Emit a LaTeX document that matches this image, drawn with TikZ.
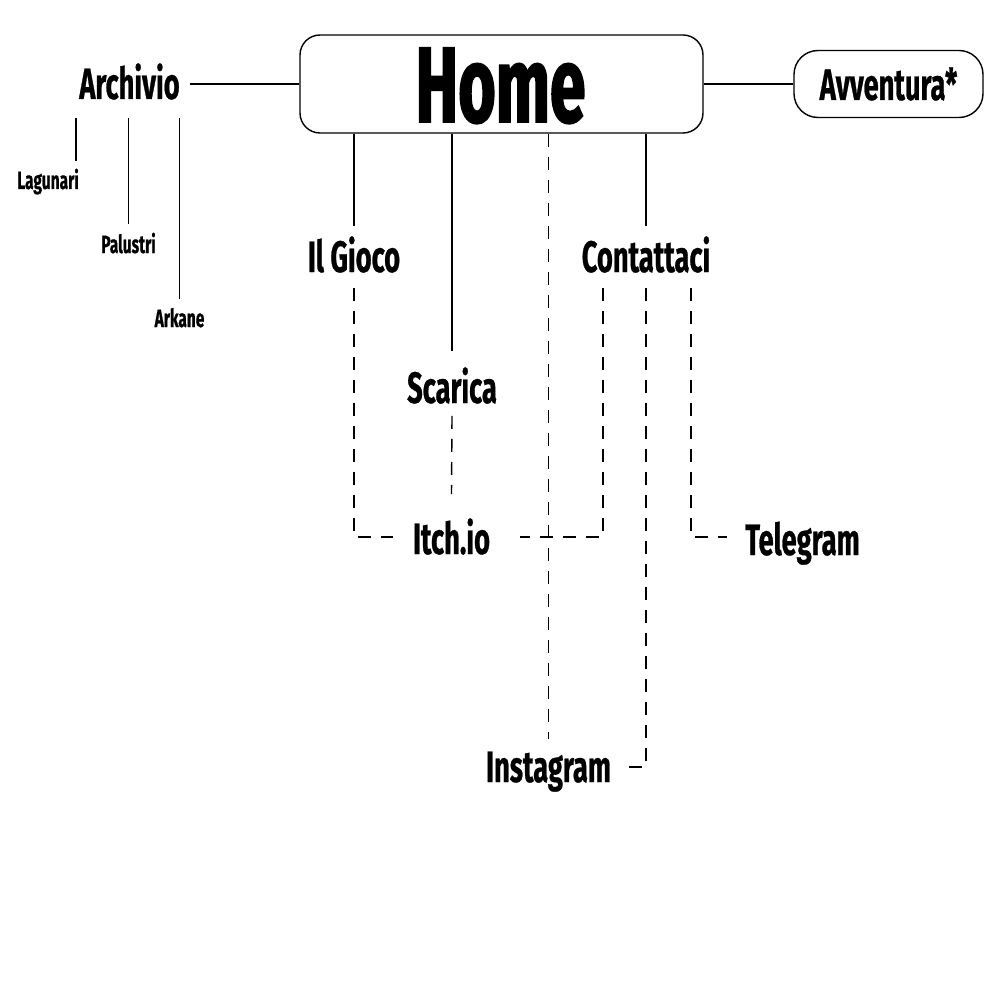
\documentclass[tikz,border=0pt]{standalone}
\usepackage{fontspec}
\setmainfont{Fira Sans}[FakeStretch=0.62,FakeBold=0.6]
\newfontfamily\homefont{Fira Sans}[FakeStretch=0.6,FakeBold=1.6]
\usetikzlibrary{calc}
\begin{document}
\begin{tikzpicture}[x=1pt,y=-1pt,
  lbl/.style={inner sep=0pt, anchor=base, font=\bfseries\fontsize{44}{44}\selectfont},
  smalllbl/.style={inner sep=0pt, anchor=base, font=\bfseries\fontsize{25}{25}\selectfont},
  ln/.style={line width=1.4pt, draw=black},
  dsh/.style={ln, dash pattern=on 13pt off 10pt}]
\useasboundingbox (0,0) rectangle (1000,1000);
\fill[white] (0,0) rectangle (1000,1000);

% boxes
\node[draw, line width=1.4pt, rounded corners=20pt, minimum width=403pt, minimum height=98pt, inner sep=0pt] (home) at (501.5,84) {};
\node[anchor=base, inner sep=0pt, font=\homefont\bfseries\fontsize{107}{107}\selectfont] (hometext) at (500.5,122) {Home};
\node[draw, line width=1.4pt, rounded corners=24pt, minimum width=189pt, minimum height=67pt, inner sep=0pt,
  font=\bfseries\fontsize{44}{44}\selectfont] (avv) at (888.5,84) {Avventura*};

% labels
\node[lbl] (archivio) at (129.5,99) {Archivio};
\node[smalllbl] (lagunari) at (48,189) {Lagunari};
\node[smalllbl] (palustri) at (128.5,253) {Palustri};
\node[smalllbl] (arkane) at (179.5,327) {Arkane};
\node[lbl] (ilgioco) at (354,272) {Il Gioco};
\node[lbl] (contattaci) at (646,272) {Contattaci};
\node[lbl] (scarica) at (452,403) {Scarica};
\node[lbl] (itch) at (451.5,554) {Itch.io};
\node[lbl] (telegram) at (802.5,555) {Telegram};
\node[lbl] (instagram) at (548.5,782) {Instagram};

% solid connectors
\draw[ln] (home.west) -- ($(home.west -| archivio.east)+(10,0)$);
\draw[ln] (home.east) -- (avv.west);
\draw[ln] ($(archivio.south -| lagunari.east)+(-3,18)$) -- ($(lagunari.north east)+(-3,-8)$);
\draw[ln] ($(archivio.south -| palustri.north)+(0,18)$) -- ($(palustri.north)+(0,-9)$);
\draw[ln] ($(archivio.south -| arkane.north)+(0,18)$) -- ($(arkane.north)+(0,-9)$);
\draw[ln] (home.south -| ilgioco.north) -- ($(ilgioco.north)+(0,-10)$);
\draw[ln] (home.south -| scarica.north) -- ($(scarica.north)+(0,-16)$);
\draw[ln] (home.south -| contattaci.north) -- ($(contattaci.north)+(0,-10)$);

% dashed connectors
\draw[dsh] (home.south -| instagram.north) -- ($(instagram.north)+(0,-12)$);
\draw[dsh] ($(ilgioco.south)+(0,15)$) |- ($(itch.base west)+(-20,-17)$);
\draw[dsh] ($(scarica.south)+(0,12)$) -- ($(itch.north)+(0,-24)$);
\draw[dsh] ($(contattaci.south)+(-43,15)$) |- ($(itch.base east)+(30,-17)$);
\draw[dsh] ($(contattaci.south)+(0,15)$) |- ($(instagram.base east)+(8,-15)$);
\draw[dsh] ($(contattaci.south)+(45,15)$) |- ($(telegram.base west)+(-18,-18)$);
\end{tikzpicture}
\end{document}
